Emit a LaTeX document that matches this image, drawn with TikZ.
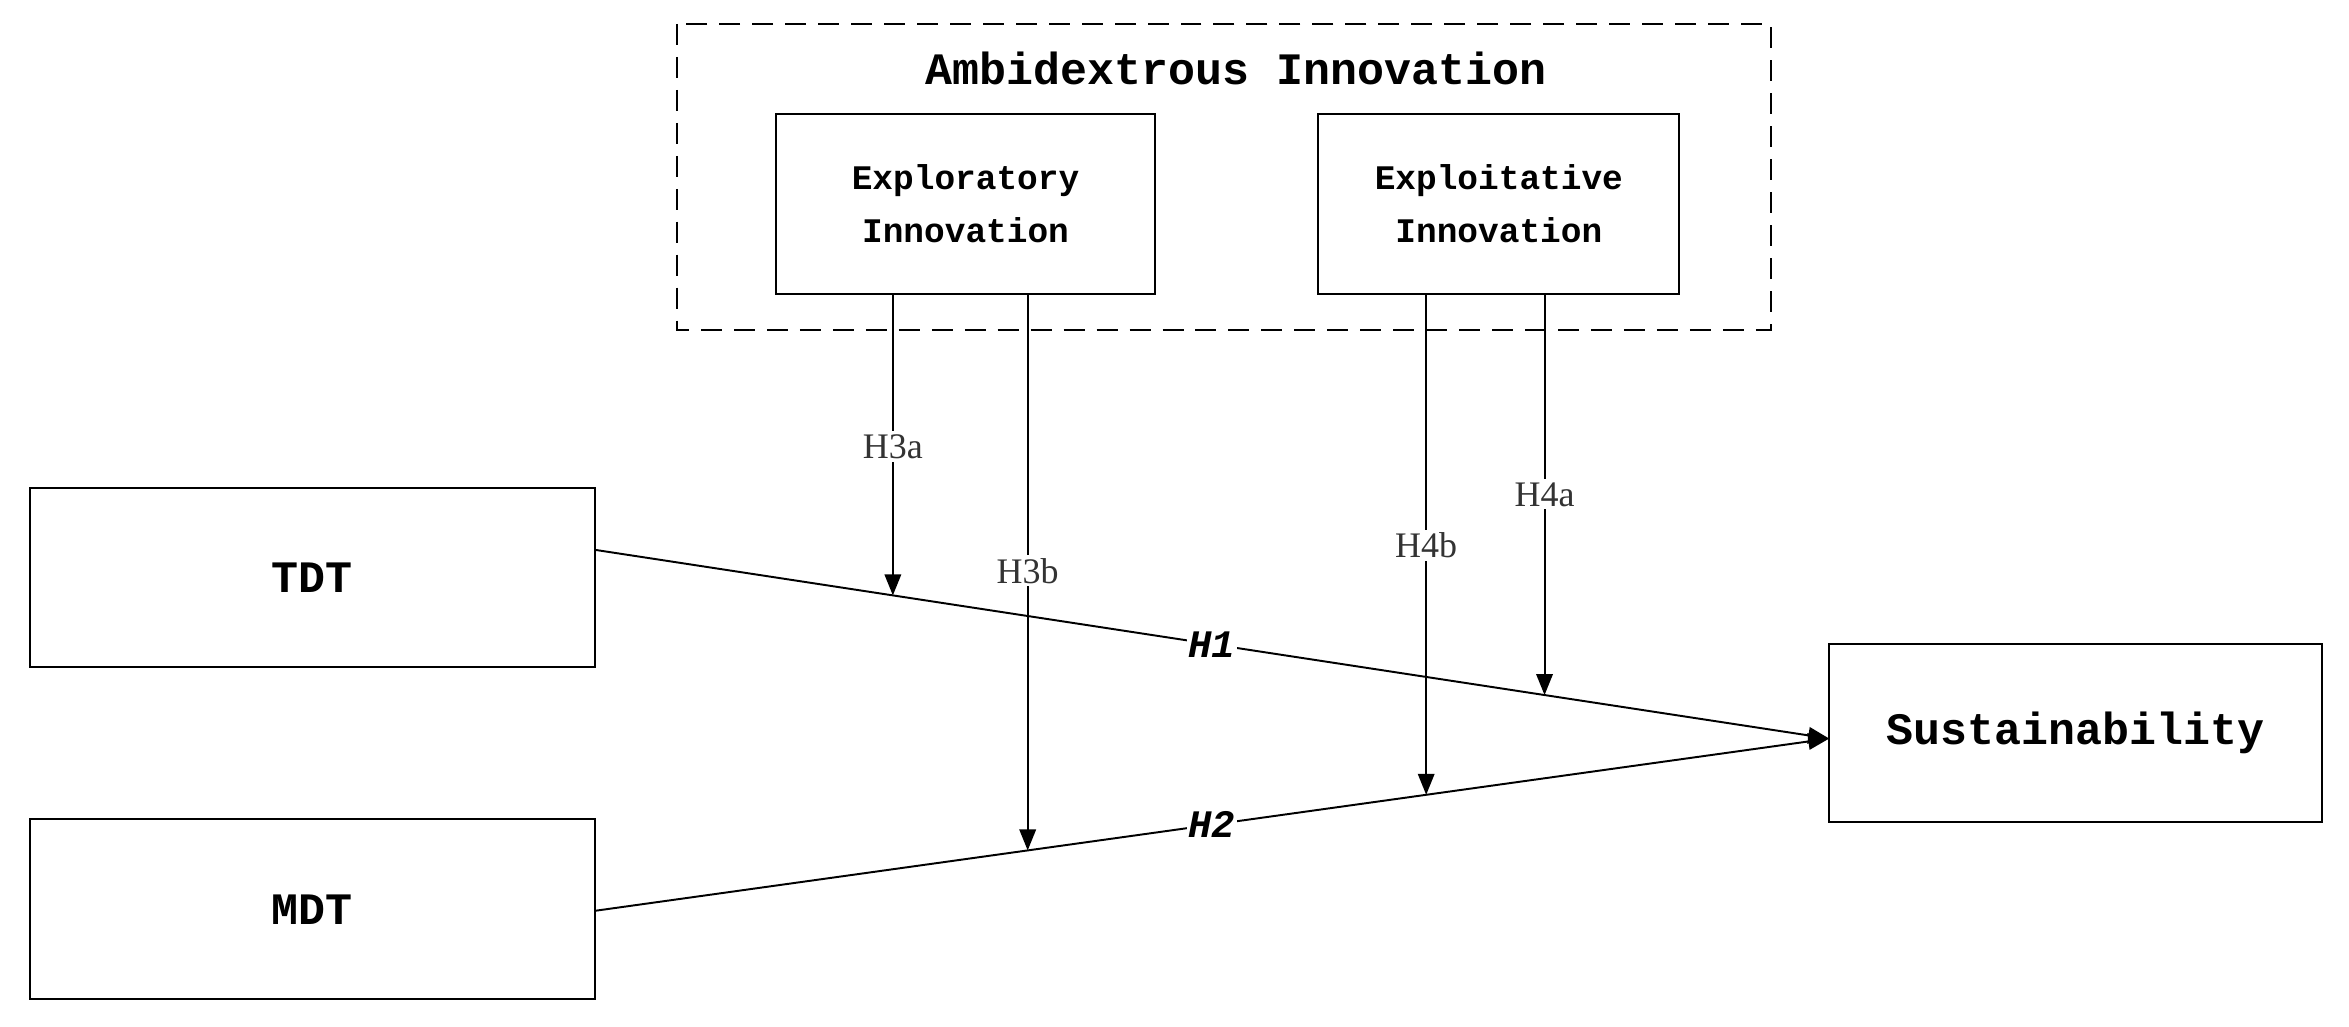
\documentclass[tikz,border=0pt]{standalone}
\usepackage{fontspec}
\setmainfont{Liberation Serif}
\newfontfamily\monof{Liberation Mono}
\usetikzlibrary{calc,arrows.meta}
\begin{document}
\begin{tikzpicture}[x=1pt,y=-1pt,
  bx/.style={draw,line width=1.3pt,inner sep=0},
  arr/.style={line width=1.3pt,-{Triangle[length=14pt,width=11pt]}},
  hl/.style={fill=white,inner sep=2pt,font=\fontsize{24}{24}\selectfont,text=black!80}]
\useasboundingbox (0,0) rectangle (1568,685);
\draw[line width=1.3pt,dash pattern=on 14pt off 8pt] (452,16) rectangle (1182,220);
\node[font=\monof\bfseries\fontsize{30}{30}\selectfont] (title) at (825,46) {Ambidextrous Innovation};
\node[bx,minimum width=253,minimum height=120,align=center,font=\monof\bfseries\fontsize{23}{35}\selectfont] (xr) at (644.5,136) {Exploratory\\Innovation};
\node[bx,minimum width=241,minimum height=120,align=center,font=\monof\bfseries\fontsize{23}{35}\selectfont] (xt) at (1000.5,136) {Exploitative\\Innovation};
\node[bx,minimum width=377,minimum height=119,font=\monof\bfseries\fontsize{30}{30}\selectfont] (tdt) at (208.5,385.5) {TDT};
\node[bx,minimum width=377,minimum height=120,font=\monof\bfseries\fontsize{30}{30}\selectfont] (mdt) at (208.5,607) {MDT};
\node[bx,minimum width=329,minimum height=119,font=\monof\bfseries\fontsize{30}{30}\selectfont] (sus) at (1385.5,489.5) {Sustainability};
\coordinate (t1) at (397,367);
\coordinate (m1) at (397,608);
\coordinate (s1) at (1221,493);
\draw[arr] (t1) -- node[pos=0.5,fill=white,inner sep=1pt,font=\monof\bfseries\itshape\fontsize{26}{26}\selectfont] (h1) {H1} (s1);
\draw[arr] (m1) -- node[pos=0.5,fill=white,inner sep=1pt,font=\monof\bfseries\itshape\fontsize{26}{26}\selectfont] (h2) {H2} (s1);
\coordinate (p3a) at ($(t1)!0.2415!(s1)$);
\coordinate (p3b) at ($(m1)!0.3507!(s1)$);
\coordinate (p4b) at ($(m1)!0.6735!(s1)$);
\coordinate (p4a) at ($(t1)!0.7694!(s1)$);
\coordinate (q3a) at (596,196);
\coordinate (q3b) at (686,196);
\coordinate (q4b) at (952,196);
\coordinate (q4a) at (1031,196);
\draw[arr] (q3a) -- (q3a |- p3a);
\draw[arr] (q3b) -- (q3b |- p3b);
\draw[arr] (q4b) -- (q4b |- p4b);
\draw[arr] (q4a) -- (q4a |- p4a);
\node[hl] (l3a) at (596,298) {H3a};
\node[hl] (l3b) at (686,381) {H3b};
\node[hl] (l4b) at (952,364) {H4b};
\node[hl] (l4a) at (1031,330) {H4a};
\end{tikzpicture}
\end{document}
